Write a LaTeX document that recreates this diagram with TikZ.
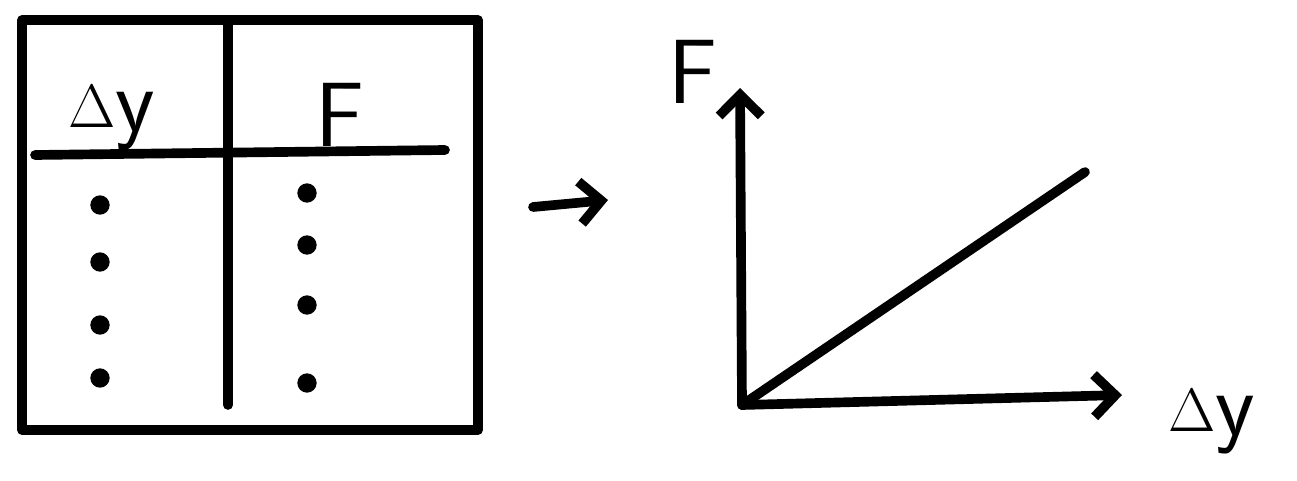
\documentclass[tikz,border=0pt]{standalone}
\usetikzlibrary{positioning,arrows.meta}
\begin{document}
\begin{tikzpicture}[x=0.02cm, y=-0.02cm,
    stroke/.style={line width=5.5pt, line cap=round, line join=round},
    arrow/.style={stroke, -{Straight Barb[length=12pt,width=24pt,line width=5.5pt]}},
    lbl/.style={font=\sffamily\fontsize{52}{52}\selectfont, inner sep=0pt},
    dot/.style={circle, fill, inner sep=0pt, minimum size=11pt}]
  \useasboundingbox (0,0) rectangle (1297,480);
  % table
  \node[draw, stroke, minimum width=9.12cm, minimum height=8.2cm] (table) at (250,225) {};
  \draw[stroke] (228,22) -- (228,405);
  \draw[stroke] (35,155) -- (445,150);
  \node[lbl] (dyhead) at (112,118) {\raisebox{2pt}{\scalebox{1.4}{$\Delta$}}y};
  \node[lbl] (fhead) at (340,115) {F};
  \foreach \y [count=\i] in {205,262,325,378}
    \node[dot] (ldot\i) at (100,\y) {};
  \foreach \y [count=\i] in {193,245,305,383}
    \node[dot] (rdot\i) at (307,\y) {};
  % arrow to plot
  \coordinate (from) at (533,207);
  \coordinate (to) at (608,200);
  \draw[arrow] (from) -- (to);
  % plot
  \coordinate (origin) at (742,405);
  \coordinate (ytip) at (740,88);
  \coordinate (xtip) at (1122,395);
  \coordinate (lineend) at (1085,172);
  \draw[arrow] (origin) -- (ytip);
  \draw[arrow] (origin) -- (xtip);
  \draw[stroke] (origin) -- (lineend);
  \node[lbl] (flabel) at (693,72) {F};
  \node[lbl] (dylabel) at (1212,422) {\raisebox{2pt}{\scalebox{1.4}{$\Delta$}}y};
\end{tikzpicture}
\end{document}
